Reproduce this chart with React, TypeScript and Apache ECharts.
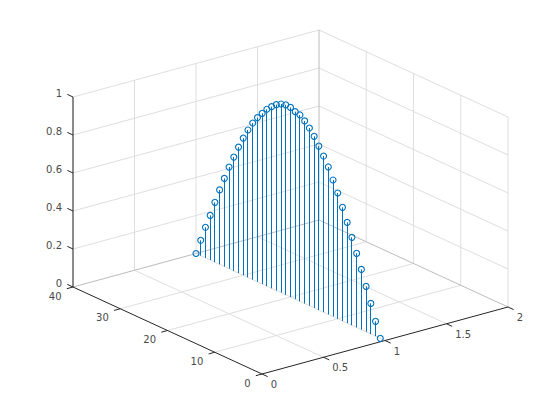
import React, { useEffect, useRef } from "react";
import * as echarts from "echarts";

// stem positions
const stemX = 1;
const stemY = [40, 39, 38, 37, 36, 35, 34, 33, 32, 31, 30, 29, 28, 27, 26, 25, 24, 23, 22, 21, 20, 19, 18, 17, 16, 15, 14, 13, 12, 11, 10, 9, 8, 7, 6, 5, 4, 3, 2, 1];
const stemZ = [0, 0.081, 0.161, 0.235, 0.315, 0.392, 0.464, 0.535, 0.599, 0.663, 0.722, 0.776, 0.824, 0.864, 0.898, 0.931, 0.956, 0.978, 0.993, 1.0, 0.998, 0.987, 0.981, 0.961, 0.935, 0.903, 0.863, 0.822, 0.776, 0.719, 0.662, 0.598, 0.53, 0.463, 0.39, 0.317, 0.239, 0.161, 0.078, 0];

const xTicks = [0, 0.5, 1, 1.5, 2];
const yTicks = [0, 10, 20, 30, 40];
const zTicks = [0, 0.2, 0.4, 0.6, 0.8, 1];
const xLabels = ["0", "0.5", "1", "1.5", "2"];
const yLabels = ["0", "10", "20", "30", "40"];
const zLabels = ["0", "0.2", "0.4", "0.6", "0.8", "1"];

const BLUE = "#0072BD";
const GRID = "#dedede";
const EDGE = "#bcbcbc";
const AXIS = "#262626";
const TEXT = "#4a4a4a";
const FONT = "10px 'DejaVu Sans'";

// orthographic view of the 3D box, in the plot's hidden 560x420 axes
function project(x: number, y: number, z: number): [number, number] {
  return [262 + x * 123 - y * 4.725, 374 - x * 33.5 - y * 2.175 - z * 190];
}

type Seg = number[];
const xMax = 2, yMax = 40, zMax = 1;

const gridSegs: Seg[] = [];
xTicks.forEach((x) => {
  if (x > 0 && x < xMax) gridSegs.push([x, 0, 0, x, yMax, 0]);
  if (x < xMax) gridSegs.push([x, yMax, 0, x, yMax, zMax]);
});
yTicks.forEach((y) => {
  if (y > 0 && y < yMax) gridSegs.push([0, y, 0, xMax, y, 0]);
  if (y < yMax) gridSegs.push([xMax, y, 0, xMax, y, zMax]);
});
zTicks.forEach((z) => {
  if (z > 0) {
    gridSegs.push([0, yMax, z, xMax, yMax, z]);
    gridSegs.push([xMax, 0, z, xMax, yMax, z]);
  }
});
const edgeSegs: Seg[] = [
  [0, yMax, 0, xMax, yMax, 0],
  [xMax, 0, 0, xMax, yMax, 0],
  [xMax, yMax, 0, xMax, yMax, zMax],
];
const axisSegs: Seg[] = [
  [0, 0, 0, xMax, 0, 0],
  [0, 0, 0, 0, yMax, 0],
  [0, yMax, 0, 0, yMax, zMax],
];
xTicks.forEach((x) => axisSegs.push([x, 0, 0, x, -1.2, 0]));
yTicks.forEach((y) => axisSegs.push([0, y, 0, -0.05, y, 0]));
zTicks.forEach((z) => axisSegs.push([0, yMax, z, 0, yMax + 1.2, z]));

function segSeries(name: string, segs: Seg[], stroke: string, z: number) {
  return {
    type: "custom",
    name,
    z,
    silent: true,
    clip: false,
    coordinateSystem: "cartesian2d",
    data: segs,
    renderItem: (_p: any, api: any) => {
      const a = api.coord(project(api.value(0), api.value(1), api.value(2)));
      const b = api.coord(project(api.value(3), api.value(4), api.value(5)));
      return {
        type: "line",
        shape: { x1: a[0], y1: a[1], x2: b[0], y2: b[1] },
        style: { stroke, lineWidth: 1, fill: "none" },
      };
    },
  };
}

type Lab = [number, number, number, string, number, number, string];
const labelRows: Lab[] = [
  ...xTicks.map((x, i): Lab => [x, 0, 0, xLabels[i], 8.7, 10.5, "left"]),
  ...yTicks.map((y, i): Lab => [0, y, 0, yLabels[i], -11.5, 9, "right"]),
  ...zTicks.map((z, i): Lab => [0, yMax, z, zLabels[i], -11, -4, "right"]),
];

export default function App() {
  const ref = useRef<HTMLDivElement>(null);
  useEffect(() => {
    const chart = echarts.init(ref.current!, undefined, { renderer: "svg" });
    chart.setOption({
      animation: false,
      backgroundColor: "#ffffff",
      grid: { left: 0, right: 0, top: 0, bottom: 0 },
      xAxis: { type: "value", min: 0, max: 560, show: false },
      yAxis: { type: "value", min: 0, max: 420, inverse: true, show: false },
      series: [
        segSeries("grid", gridSegs, GRID, 1),
        segSeries("edges", edgeSegs, EDGE, 2),
        segSeries("axes", axisSegs, AXIS, 3),
        {
          type: "custom",
          name: "labels",
          z: 3,
          silent: true,
          clip: false,
          data: labelRows.map((r) => [r[0], r[1], r[2], r[4], r[5]]),
          renderItem: (p: any, api: any) => {
            const c = api.coord(project(api.value(0), api.value(1), api.value(2)));
            const row = labelRows[p.dataIndex];
            return {
              type: "text",
              style: {
                text: row[3],
                x: c[0] + api.value(3),
                y: c[1] + api.value(4),
                align: row[6],
                verticalAlign: "middle",
                fill: TEXT,
                font: FONT,
              },
            };
          },
        },
        {
          type: "custom",
          name: "stems",
          z: 4,
          silent: true,
          clip: false,
          data: stemY.map((y, i) => [stemX, y, stemZ[i]]),
          renderItem: (_p: any, api: any) => {
            const a = api.coord(project(api.value(0), api.value(1), 0));
            const b = api.coord(project(api.value(0), api.value(1), api.value(2)));
            const sx = Math.floor(a[0]) + 0.5;
            return {
              type: "line",
              shape: { x1: sx, y1: a[1], x2: sx, y2: b[1] },
              style: { stroke: BLUE, lineWidth: 1, fill: "none" },
            };
          },
        },
        {
          type: "custom",
          name: "markers",
          z: 5,
          silent: true,
          clip: false,
          data: stemY.map((y, i) => [stemX, y, stemZ[i]]),
          renderItem: (_p: any, api: any) => {
            const c = api.coord(project(api.value(0), api.value(1), api.value(2)));
            return {
              type: "circle",
              shape: { cx: c[0], cy: c[1], r: 3 },
              style: { stroke: BLUE, lineWidth: 1.1, fill: "none" },
            };
          },
        },
      ],
    });
    return () => chart.dispose();
  }, []);
  return <div ref={ref} style={{ position: "fixed", left: 0, top: 0, width: 560, height: 420 }} />;
}
